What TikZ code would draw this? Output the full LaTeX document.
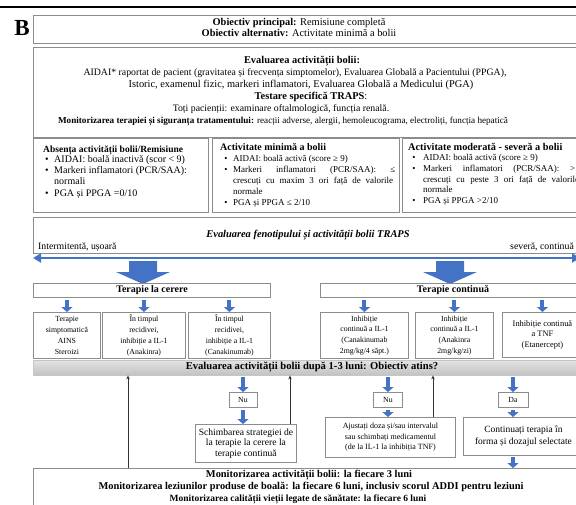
\documentclass[tikz,border=0pt]{standalone}
\usepackage{fontspec}
\setmainfont{Liberation Serif}
\usetikzlibrary{arrows.meta}
\definecolor{arrowblue}{HTML}{4472C4}
\definecolor{frame}{HTML}{8C8C8C}

\begin{document}
\begin{tikzpicture}[x=1pt,y=-1pt,
  box/.style={draw=frame, line width=0.9pt, anchor=north west, inner sep=0pt, fill=white},
  cbox/.style={draw=frame, line width=0.9pt, inner sep=0pt, fill=white, align=center},
  txt/.style={inner sep=0pt, font=\fontsize{9.8}{11}\selectfont},
  btxt/.style={inner sep=0pt, font=\fontsize{10.4}{11}\selectfont\bfseries},
  mtxt/.style={inner sep=0pt, font=\fontsize{9}{11}\selectfont},
  atxt/.style={inner sep=0pt, font=\fontsize{10}{11}\selectfont},
  small/.style={font=\fontsize{7.8}{10.8}\selectfont},
  barrow/.style={draw=arrowblue, line width=4pt, -{Triangle[width=11pt,length=5pt]}},
  backarrow/.style={draw=black!80, line width=0.7pt, -{Stealth[length=4pt,width=3.5pt]}},
]
\clip (0,0) rectangle (576,504);

% heading rule and panel letter
\draw[line width=1.6pt] (0,7) -- (576,7);
\node[inner sep=0pt, font=\fontsize{23}{23}\selectfont\bfseries] (letter) at (22,28) {B};

% goals
\node[box, line width=1.3pt, minimum width=560pt, minimum height=28pt] (goals) at (33,15) {};
\node[btxt, anchor=mid] (goal1) at (299,23) {Obiectiv principal:\mdseries{} Remisiune completă};
\node[btxt, anchor=mid] (goal2) at (299,34) {Obiectiv alternativ:\mdseries{} Activitate minimă a bolii};

% assessment
\node[box, minimum width=560pt, minimum height=90pt] (assess) at (33,47) {};
\node[btxt, anchor=mid] (as1) at (302,61) {Evaluarea activității bolii:};
\node[txt, anchor=mid] (as2) at (295,73) {AIDAI* raportat de pacient (gravitatea și frecvența simptomelor), Evaluarea Globală a Pacientului (PPGA),};
\node[txt, anchor=mid, font=\fontsize{10.4}{11}\selectfont] (as3) at (301,85) {Istoric, examenul fizic, markeri inflamatori, Evaluarea Globală a Medicului (PGA)};
\node[btxt, anchor=mid] (as4) at (311,97) {Testare specifică TRAPS\mdseries:};
\node[txt, anchor=mid] (as5) at (281,109) {Toți pacienții: examinare oftalmologică, funcția renală.};
\node[txt, anchor=mid, font=\fontsize{9.15}{11}\selectfont] (as6) at (283,121) {\textbf{Monitorizarea terapiei și siguranța tratamentului:} reacții adverse, alergii, hemoleucograma, electroliți, funcția hepatică};

% activity levels
\node[box, minimum width=175pt, minimum height=74pt] (lvlA) at (33,138) {};
\node[box, minimum width=187pt, minimum height=74pt] (lvlB) at (212,138) {};
\node[box, minimum width=200pt, minimum height=74pt] (lvlC) at (402,138) {};

\node[atxt, anchor=mid west, font=\fontsize{9.5}{11}\selectfont\bfseries] (a0) at (43,150) {Absența activității bolii/Remisiune};
\node[atxt, anchor=mid] (ab1) at (47,160) {•};
\node[atxt, anchor=mid west] (a1) at (54,160) {AIDAI: boală inactivă (scor < 9)};
\node[atxt, anchor=mid] (ab2) at (47,171) {•};
\node[atxt, anchor=mid west] (a2) at (54,171) {Markeri inflamatori (PCR/SAA):};
\node[atxt, anchor=mid west] (a3) at (54,182) {normali};
\node[atxt, anchor=mid] (ab3) at (47,194) {•};
\node[atxt, anchor=mid west] (a4) at (54,194) {PGA și PPGA =0/10};

\node[mtxt, anchor=mid west, font=\fontsize{10}{11}\selectfont\bfseries] (b0) at (220,148) {Activitate minimă a bolii};
\node[mtxt, anchor=mid] (bb1) at (226,159) {•};
\node[mtxt, anchor=mid west] (b1) at (233,159) {AIDAI: boală activă (score ≥ 9)};
\node[mtxt, anchor=mid] (bb2) at (226,170) {•};
\node[mtxt, anchor=mid west] (b2) at (233,170) {\makebox[162pt][s]{Markeri inflamatori (PCR/SAA): ≤}};
\node[mtxt, anchor=mid west] (b3) at (233,181) {\makebox[160pt][s]{crescuți cu maxim 3 ori față de valorile}};
\node[mtxt, anchor=mid west] (b4) at (233,192) {normale};
\node[mtxt, anchor=mid] (bb3) at (226,203) {•};
\node[mtxt, anchor=mid west] (b5) at (233,203) {PGA și PPGA ≤ 2/10};

\node[mtxt, anchor=mid west, font=\fontsize{10.3}{11}\selectfont\bfseries] (c0) at (408,148) {Activitate moderată - severă a bolii};
\node[mtxt, anchor=mid] (cb1) at (414,158) {•};
\node[mtxt, anchor=mid west] (c1) at (423,158) {AIDAI: boală activă (score ≥ 9)};
\node[mtxt, anchor=mid] (cb2) at (414,169) {•};
\node[mtxt, anchor=mid west] (c2) at (423,169) {\makebox[152pt][s]{Markeri inflamatori (PCR/SAA): >}};
\node[mtxt, anchor=mid west] (c3) at (423,180) {\makebox[156pt][s]{crescuți cu peste 3 ori față de valorile}};
\node[mtxt, anchor=mid west] (c4) at (423,190) {normale};
\node[mtxt, anchor=mid] (cb3) at (414,201) {•};
\node[mtxt, anchor=mid west] (c5) at (423,201) {PGA și PPGA >2/10};

% phenotype scale
\node[box, minimum width=560pt, minimum height=36pt] (pheno) at (33,217) {};
\node[btxt, anchor=mid] (ph0) at (308,235) {\textit{Evaluarea fenotipului și activității bolii TRAPS}};
\node[txt, anchor=mid west] (ph1) at (38,247) {Intermitentă, ușoară};
\node[txt, anchor=mid west] (ph2) at (510,247) {severă, continuă};
\coordinate (scaleL) at (33,258);
\coordinate (scaleR) at (580,258);
\draw[arrowblue, line width=2.6pt, {Triangle[width=9pt,length=8pt]}-{Triangle[width=9pt,length=8pt]}] (scaleL) -- (scaleR);

% block arrows
\fill[arrowblue] (129,261) -- (157,261) -- (157,272) -- (170,272) -- (143,284) -- (116,272) -- (129,272) -- cycle;
\fill[arrowblue] (436,261) -- (464,261) -- (464,272) -- (477,272) -- (450,284) -- (423,272) -- (436,272) -- cycle;

% therapy headers
\node[box, minimum width=237pt, minimum height=14pt] (demand) at (33,283) {};
\node[btxt, anchor=mid, font=\fontsize{10}{11}\selectfont\bfseries] (demandT) at (152,290) {Terapie la cerere};
\node[box, minimum width=266pt, minimum height=14pt] (cont) at (320,283) {};
\node[btxt, anchor=mid, font=\fontsize{10}{11}\selectfont\bfseries] (contT) at (453,290) {Terapie continuă};

% therapy options
\node[box, small, align=center, minimum width=67pt, minimum height=46pt] (s1) at (33,312) {Terapie\\simptomatică\\AINS\\Steroizi};
\node[box, small, align=center, minimum width=83pt, minimum height=46pt] (s2) at (102,312) {În timpul\\recidivei,\\inhibiție a IL-1\\(Anakinra)};
\node[box, small, align=center, minimum width=82pt, minimum height=46pt] (s3) at (188,312) {În timpul\\recidivei,\\inhibiție a IL-1\\(Canakinumab)};
\node[box, small, align=center, minimum width=88pt, minimum height=46pt] (s4) at (320,312) {Inhibiție\\continuă a IL-1\\(Canakinumab\\2mg/kg/4 săpt.)};
\node[box, small, align=center, minimum width=78pt, minimum height=46pt] (s5) at (415,312) {Inhibiție\\continuă a IL-1\\(Anakinra\\2mg/kg/zi)};
\node[box, small, align=center, font=\fontsize{8.4}{10.8}\selectfont, minimum width=80pt, minimum height=45pt] (s6) at (502,312) {Inhibiție continuă\\a TNF\\(Etanercept)};

\foreach \s in {s1,s2,s3} \draw[barrow] (demand.south -| \s.north) ++(0,2) -- (\s.north);
\foreach \s in {s4,s5,s6} \draw[barrow] (cont.south -| \s.north) ++(0,2) -- (\s.north);

% evaluation bar
\node[anchor=north west, inner sep=0pt, minimum width=560pt, minimum height=15pt, top color=gray!22, bottom color=gray!48, draw=gray!45] (evalbar) at (33,360) {};
\node[btxt, anchor=mid, font=\fontsize{10.6}{11}\selectfont\bfseries] (evalT) at (312,367) {Evaluarea activității bolii după 1-3 luni: Obiectiv atins?};

% answers
\node[cbox, small, minimum width=28pt, minimum height=15pt] (no1) at (243,400) {Nu};
\node[cbox, small, minimum width=29pt, minimum height=15pt] (no2) at (388,400) {Nu};
\node[cbox, small, minimum width=30pt, minimum height=15pt] (yes) at (513,400) {Da};
\foreach \n in {no1,no2,yes} \draw[barrow] (evalbar.south -| \n.north) ++(0,2) -- (\n.north);

% actions
\node[box, align=center, font=\fontsize{9.6}{10.5}\selectfont, minimum width=101pt, minimum height=38pt] (switch) at (195,424) {Schimbarea strategiei de\\la terapie la cerere la\\terapie continuă};
\node[box, align=center, font=\fontsize{8}{10.5}\selectfont, minimum width=130pt, minimum height=40pt] (adjust) at (325,417) {Ajustați doza și/sau intervalul\\sau schimbați medicamentul\\(de la IL-1 la inhibiția TNF)};
\node[box, align=center, font=\fontsize{9.5}{12}\selectfont, minimum width=120pt, minimum height=38pt] (keep) at (463,417) {Continuați terapia în\\forma și dozajul selectate};
\draw[barrow] (no1.south) ++(0,2) -- (no1.south |- switch.north);
\draw[barrow] (no2.south) ++(0,2) -- (no2.south |- adjust.north);
\draw[barrow] (yes.south) ++(0,2) -- (yes.south |- keep.north);

% monitoring
\node[box, minimum width=560pt, minimum height=50pt] (monitor) at (33,468) {};
\node[btxt, anchor=mid] (m1) at (309,475) {Monitorizarea activității bolii: la fiecare 3 luni};
\node[btxt, anchor=mid] (m2) at (311,487) {Monitorizarea leziunilor produse de boală: la fiecare 6 luni, inclusiv scorul ADDI pentru leziuni};
\node[btxt, anchor=mid, font=\fontsize{9.5}{11}\selectfont\bfseries] (m3) at (298,499) {Monitorizarea calității vieții legate de sănătate: la fiecare 6 luni};
\draw[barrow] (keep.south -| yes.south) ++(0,1) -- (monitor.north -| yes.south);

% feedback to re-evaluation
\coordinate (fb1) at (128,0);
\coordinate (fb2) at (290,0);
\coordinate (fb3) at (433,0);
\draw[backarrow] (monitor.north -| fb1) -- (evalbar.south -| fb1);
\draw[backarrow] (switch.north -| fb2) -- (evalbar.south -| fb2);
\draw[backarrow] (adjust.north -| fb3) -- (evalbar.south -| fb3);
\end{tikzpicture}
\end{document}
